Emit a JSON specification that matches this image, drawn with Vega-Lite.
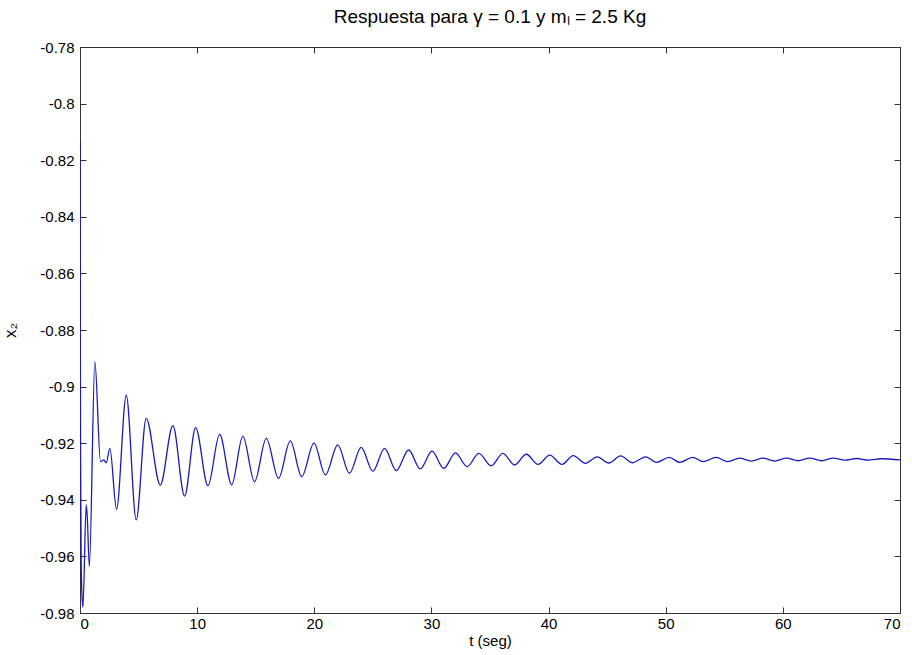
{
  "$schema": "https://vega.github.io/schema/vega-lite/v6.json",
  "autosize": "none",
  "width": 820,
  "height": 566,
  "padding": {"left": 80, "top": 47, "right": 12, "bottom": 42},
  "background": "white",
  "config": {
    "font": "Liberation Sans",
    "view": {"stroke": "#333333", "strokeWidth": 1},
    "axis": {
      "grid": false,
      "domainColor": "#333333",
      "tickColor": "#333333",
      "labelColor": "#000000",
      "titleColor": "#000000",
      "labelFont": "Liberation Sans",
      "titleFont": "Liberation Sans",
      "labelFontSize": 15,
      "titleFontSize": 15,
      "titleFontWeight": "normal",
      "tickSize": -6
    }
  },
  "title": {
    "text": "Respuesta para γ = 0.1 y mₗ = 2.5 Kg",
    "font": "Liberation Sans",
    "fontSize": 19,
    "fontWeight": "normal",
    "color": "#000000",
    "anchor": "middle",
    "offset": 13
  },
  "data": {
    "values": [
      {"t": 0, "x2": -0.8136},
      {"t": 0.02, "x2": -0.87},
      {"t": 0.05, "x2": -0.925},
      {"t": 0.1, "x2": -0.962},
      {"t": 0.17, "x2": -0.974},
      {"t": 0.25, "x2": -0.978},
      {"t": 0.53, "x2": -0.9418},
      {"t": 0.62, "x2": -0.946},
      {"t": 0.8, "x2": -0.9636},
      {"t": 1.27, "x2": -0.8912},
      {"t": 1.75, "x2": -0.9265},
      {"t": 2.03, "x2": -0.9259},
      {"t": 2.24, "x2": -0.9269},
      {"t": 2.55, "x2": -0.9218},
      {"t": 3.12, "x2": -0.9434},
      {"t": 3.95, "x2": -0.903},
      {"t": 4.8, "x2": -0.9471},
      {"t": 5.65, "x2": -0.9112},
      {"t": 6.85, "x2": -0.9348},
      {"t": 7.93, "x2": -0.9138},
      {"t": 8.93, "x2": -0.9387},
      {"t": 9.87, "x2": -0.9145},
      {"t": 10.92, "x2": -0.935},
      {"t": 11.92, "x2": -0.9169},
      {"t": 12.95, "x2": -0.9347},
      {"t": 13.9, "x2": -0.9175},
      {"t": 14.9, "x2": -0.9336},
      {"t": 15.9, "x2": -0.9183},
      {"t": 16.95, "x2": -0.9324},
      {"t": 17.95, "x2": -0.9192},
      {"t": 18.93, "x2": -0.9318},
      {"t": 19.97, "x2": -0.92},
      {"t": 20.95, "x2": -0.9312},
      {"t": 22.0, "x2": -0.9206},
      {"t": 23.0, "x2": -0.9306},
      {"t": 24.0, "x2": -0.9215},
      {"t": 25.0, "x2": -0.9299},
      {"t": 26.0, "x2": -0.9218},
      {"t": 27.0, "x2": -0.9297},
      {"t": 28.05, "x2": -0.9224},
      {"t": 29.05, "x2": -0.9291},
      {"t": 30.05, "x2": -0.9228},
      {"t": 31.05, "x2": -0.9289},
      {"t": 32.05, "x2": -0.9234},
      {"t": 33.05, "x2": -0.9283},
      {"t": 34.05, "x2": -0.9236},
      {"t": 35.1, "x2": -0.928},
      {"t": 36.1, "x2": -0.9236},
      {"t": 37.1, "x2": -0.9277},
      {"t": 38.1, "x2": -0.9239},
      {"t": 39.1, "x2": -0.9275},
      {"t": 40.1, "x2": -0.9242},
      {"t": 41.15, "x2": -0.9275},
      {"t": 42.1, "x2": -0.9244},
      {"t": 43.15, "x2": -0.9271},
      {"t": 44.15, "x2": -0.9248},
      {"t": 45.15, "x2": -0.927},
      {"t": 46.15, "x2": -0.9245},
      {"t": 47.15, "x2": -0.9269},
      {"t": 48.3, "x2": -0.9248},
      {"t": 49.2, "x2": -0.9268},
      {"t": 50.3, "x2": -0.925},
      {"t": 51.2, "x2": -0.9268},
      {"t": 52.3, "x2": -0.925},
      {"t": 53.2, "x2": -0.9265},
      {"t": 54.3, "x2": -0.925},
      {"t": 55.3, "x2": -0.9265},
      {"t": 56.3, "x2": -0.9253},
      {"t": 57.3, "x2": -0.9263},
      {"t": 58.3, "x2": -0.9253},
      {"t": 59.3, "x2": -0.9263},
      {"t": 60.3, "x2": -0.9253},
      {"t": 61.3, "x2": -0.9262},
      {"t": 62.3, "x2": -0.9253},
      {"t": 63.3, "x2": -0.9262},
      {"t": 64.3, "x2": -0.9253},
      {"t": 65.3, "x2": -0.926},
      {"t": 66.3, "x2": -0.9254},
      {"t": 67.3, "x2": -0.926},
      {"t": 68.4, "x2": -0.9255},
      {"t": 70, "x2": -0.9259}
    ]
  },
  "layer": [
    {
      "mark": {"type": "line", "color": "#1a1ac0", "strokeWidth": 1.3, "interpolate": "monotone", "clip": true},
      "encoding": {
        "x": {
          "field": "t", "type": "quantitative",
          "scale": {"domain": [0, 70], "nice": false, "zero": false},
          "axis": {"values": [0, 10, 20, 30, 40, 50, 60, 70], "title": "t (seg)", "titlePadding": 2, "labelPadding": 9, "labelExpr": "replace(format(datum.value, '~g'), '−', '-')"}
        },
        "y": {
          "field": "x2", "type": "quantitative",
          "scale": {"domain": [-0.98, -0.78], "nice": false, "zero": false},
          "axis": {
            "values": [-0.98, -0.96, -0.94, -0.92, -0.9, -0.88, -0.86, -0.84, -0.82, -0.8, -0.78],
            "title": "x₂", "titlePadding": 20, "titleFontSize": 17, "labelPadding": 12,
            "labelExpr": "replace(format(datum.value, '~g'), '−', '-')"
          }
        }
      }
    },
    {
      "mark": {"type": "line", "strokeOpacity": 0},
      "encoding": {
        "x": {
          "field": "t", "type": "quantitative",
          "scale": {"domain": [0, 70], "nice": false, "zero": false},
          "axis": {"orient": "top", "values": [0, 10, 20, 30, 40, 50, 60, 70], "labels": false, "title": null}
        },
        "y": {
          "field": "x2", "type": "quantitative",
          "scale": {"domain": [-0.98, -0.78], "nice": false, "zero": false},
          "axis": {"orient": "right", "values": [-0.98, -0.96, -0.94, -0.92, -0.9, -0.88, -0.86, -0.84, -0.82, -0.8, -0.78], "labels": false, "title": null}
        }
      }
    }
  ],
  "resolve": {"axis": {"x": "independent", "y": "independent"}}
}
